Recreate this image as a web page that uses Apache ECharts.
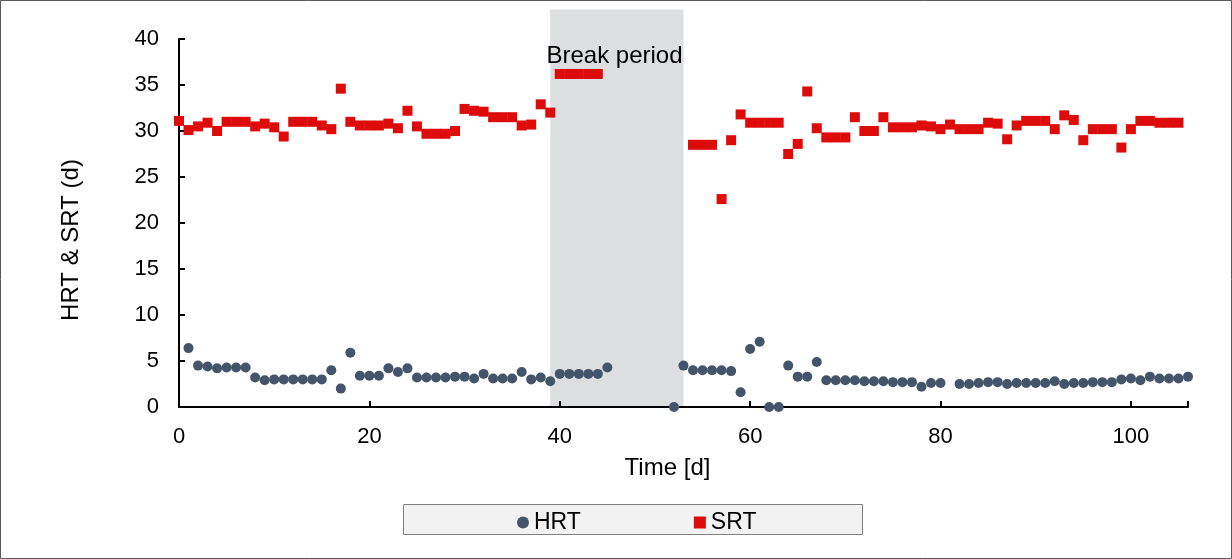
<!DOCTYPE html>
<html>
<head>
<meta charset="utf-8">
<script src="https://cdn.jsdelivr.net/npm/echarts@6/dist/echarts.min.js"></script>
<style>
html,body{margin:0;padding:0;background:#fff;}
#c{width:1232px;height:559px;}
</style>
</head>
<body>
<div id="c"></div>
<script>
// ---- data ----
const hrtDays = [1,2,3,4,5,6,7,8,9,10,11,12,13,14,15,16,17,18,19,20,21,22,23,24,25,26,27,28,29,30,31,32,33,34,35,36,37,38,39,40,41,42,43,44,45,
  52,53,54,55,56,57,58,59,60,61,62,63,64,65,66,67,68,69,70,71,72,73,74,75,76,77,78,79,80,
  82,83,84,85,86,87,88,89,90,91,92,93,94,95,96,97,98,99,100,101,102,103,104,105,106];
const hrtValues = [6.4,4.5,4.4,4.2,4.3,4.3,4.3,3.2,2.9,3.0,3.0,3.0,3.0,3.0,3.0,4.0,2.0,5.9,3.4,3.4,3.4,4.2,3.8,4.2,3.2,3.2,3.2,3.2,3.3,3.3,3.1,3.6,3.1,3.1,3.1,3.8,3.0,3.2,2.8,3.6,3.6,3.6,3.6,3.6,4.3,
  0,4.5,4.0,4.0,4.0,4.0,3.9,1.6,6.3,7.1,0,0,4.5,3.3,3.3,4.9,2.9,2.9,2.9,2.9,2.8,2.8,2.8,2.7,2.7,2.7,2.2,2.6,2.6,
  2.5,2.5,2.6,2.7,2.7,2.5,2.6,2.6,2.6,2.6,2.8,2.5,2.6,2.6,2.7,2.7,2.7,3.0,3.1,2.9,3.3,3.1,3.1,3.1,3.3];
const srtDays = [0,1,2,3,4,5,6,7,8,9,10,11,12,13,14,15,16,17,18,19,20,21,22,23,24,25,26,27,28,29,30,31,32,33,34,35,36,37,38,39,40,41,42,43,44,
  54,55,56,57,58,59,60,61,62,63,64,65,66,67,68,69,70,71,72,73,74,75,76,77,78,79,80,81,82,83,84,85,86,87,88,89,90,91,92,93,94,95,96,97,98,99,100,101,102,103,104,105];
const srtValues = [31.1,30.1,30.5,30.9,30.0,31.0,31.0,31.0,30.5,30.8,30.4,29.4,31.0,31.0,31.0,30.6,30.2,34.6,31.0,30.6,30.6,30.6,30.8,30.3,32.2,30.5,29.7,29.7,29.7,30.0,32.4,32.2,32.1,31.5,31.5,31.5,30.6,30.7,32.9,32.0,36.2,36.2,36.2,36.2,36.2,
  28.5,28.5,28.5,22.6,29.0,31.8,30.9,30.9,30.9,30.9,27.5,28.6,34.3,30.3,29.3,29.3,29.3,31.5,30.0,30.0,31.5,30.4,30.4,30.4,30.6,30.5,30.2,30.7,30.2,30.2,30.2,30.9,30.8,29.1,30.6,31.1,31.1,31.1,30.2,31.7,31.2,29.0,30.2,30.2,30.2,28.2,30.2,31.1,31.1,30.9,30.9,30.9];
const breakStart = 39, breakEnd = 53;
const xTicks = [0, 20, 40, 60, 80, 100];
const yTicks = [0, 5, 10, 15, 20, 25, 30, 35, 40];
const seriesNames = ['HRT', 'SRT'];
const breakLabel = 'Break period';

const FONT = '"Liberation Sans", Arial, sans-serif';
const chart = echarts.init(document.getElementById('c'), null, {renderer: 'canvas'});

const option = {
  animation: false,
  backgroundColor: '#ffffff',
  grid: {left: 179, right: 44, top: 39, bottom: 152, containLabel: false},
  xAxis: {
    type: 'value', min: 0, max: 106, interval: 20,
    name: 'Time [d]', nameLocation: 'middle', nameGap: 49,
    nameTextStyle: {fontFamily: FONT, fontSize: 24, color: '#000', padding: [0, 32, 0, 0]},
    axisLine: {show: true, lineStyle: {color: '#000', width: 2}},
    axisTick: {show: true, inside: true, length: 6, lineStyle: {color: '#000', width: 2}},
    axisLabel: {fontFamily: FONT, fontSize: 22, color: '#000', margin: 19,
      formatter: v => xTicks.includes(v) ? String(v) : ''},
    splitLine: {show: false}
  },
  yAxis: {
    type: 'value', min: 0, max: 40, interval: 5,
    name: 'HRT & SRT (d)', nameLocation: 'middle', nameGap: 96, nameRotate: 90,
    nameTextStyle: {fontFamily: FONT, fontSize: 24, color: '#000', padding: [0, 34, 0, 0]},
    axisLine: {show: true, lineStyle: {color: '#000', width: 2}},
    axisTick: {show: true, inside: true, length: 6, lineStyle: {color: '#000', width: 2}},
    axisLabel: {fontFamily: FONT, fontSize: 22, color: '#000', margin: 20,
      formatter: v => yTicks.includes(v) ? String(v) : ''},
    splitLine: {show: false}
  },
  legend: {
    data: [{name: seriesNames[0], icon: 'circle'}, {name: seriesNames[1], icon: 'rect'}],
    left: 512, top: 506, itemWidth: 12, itemHeight: 12, itemGap: 113,
    textStyle: {fontFamily: FONT, fontSize: 23, color: '#000'}
  },
  series: [
    {
      name: seriesNames[0], type: 'scatter', symbol: 'circle', symbolSize: 10,
      itemStyle: {color: '#44546a', opacity: 1}, z: 3,
      data: hrtDays.map((d, i) => [d, hrtValues[i]])
    },
    {
      name: seriesNames[1], type: 'scatter', symbol: 'rect', symbolSize: 10,
      itemStyle: {color: '#de0b0b', opacity: 1}, z: 3,
      data: srtDays.map((d, i) => [d, srtValues[i]])
    }
  ]
};
chart.setOption(option);

function addGraphics() {
  const x0 = chart.convertToPixel({xAxisIndex: 0}, breakStart);
  const x1 = chart.convertToPixel({xAxisIndex: 0}, breakEnd);
  const yTop = chart.convertToPixel({yAxisIndex: 0}, 43.2);
  const yBot = chart.convertToPixel({yAxisIndex: 0}, 0);
  const tx = chart.convertToPixel({xAxisIndex: 0}, 45.75);
  const ty = chart.convertToPixel({yAxisIndex: 0}, 38.1);
  chart.setOption({
    graphic: [
      {type: 'rect', z: -10, silent: true,
       shape: {x: 0.5, y: 0.5, width: 1231, height: 558},
       style: {fill: '#ffffff', stroke: '#595959', lineWidth: 1}},
      {type: 'rect', z: -5, silent: true,
       shape: {x: x0, y: yTop, width: x1 - x0, height: yBot - yTop},
       style: {fill: '#dddee0'}},
      {type: 'text', z: 10, silent: true, x: tx, y: ty,
       style: {text: breakLabel, fontFamily: FONT, fontSize: 24, fill: '#000', align: 'center', verticalAlign: 'middle'}},
      {type: 'rect', z: -5, silent: true,
       shape: {x: 403.5, y: 504.5, width: 459, height: 30},
       style: {fill: '#f2f2f2', stroke: '#808080', lineWidth: 1}}
    ]
  });
}
addGraphics();
</script>
</body>
</html>
